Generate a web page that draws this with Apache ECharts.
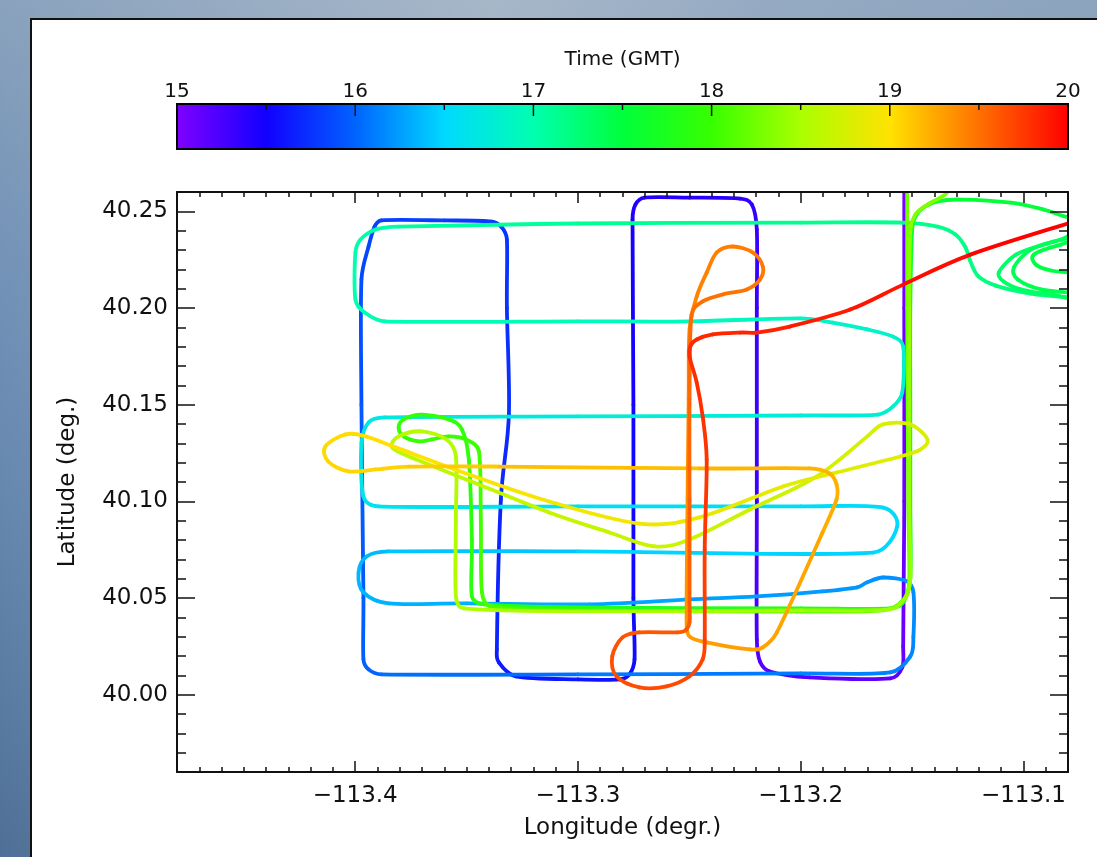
<!DOCTYPE html>
<html>
<head>
<meta charset="utf-8">
<title>Flight track coloured by time</title>
<script src="https://cdn.jsdelivr.net/npm/echarts@6/dist/echarts.min.js"></script>
<style>
  html, body { margin: 0; padding: 0; width: 1097px; height: 857px; overflow: hidden; }
  body {
    position: relative;
    background:
      linear-gradient(90deg, rgba(160,176,194,0.0) 0%, rgba(190,200,210,0.55) 45%, rgba(170,186,204,0.35) 70%, rgba(150,170,195,0.2) 100%),
      linear-gradient(180deg, #8aa2bd 0%, #7393b7 30%, #6788b0 55%, #5a7ca4 80%, #4f6f96 100%);
  }
  #panel {
    position: absolute; left: 30px; top: 18px; width: 1100px; height: 900px;
    background: #ffffff; border-left: 2px solid #111; border-top: 2px solid #111;
  }
  #chart { position: absolute; left: 0; top: 0; width: 1097px; height: 857px; }
</style>
</head>
<body>
<div id="panel"></div>
<div id="chart"></div>
<script>
// Aircraft track: [longitude (deg), latitude (deg), time (hours GMT)]
const legSurveyBoxes = [
  [-113.1535, 40.2700, 15.00], [-113.1535, 40.2000, 15.04], [-113.1535, 40.1000, 15.08],
  [-113.1540, 40.0250, 15.11], [-113.1544, 40.0141, 15.12], [-113.1598, 40.0084, 15.13],
  [-113.1961, 40.0089, 15.16], [-113.2138, 40.0120, 15.18], [-113.2183, 40.0172, 15.19],
  [-113.2197, 40.0286, 15.20], [-113.2197, 40.1000, 15.25], [-113.2197, 40.2000, 15.31],
  [-113.2197, 40.2406, 15.33], [-113.2219, 40.2535, 15.34], [-113.2273, 40.2566, 15.35],
  [-113.2500, 40.2571, 15.38], [-113.2701, 40.2571, 15.41], [-113.2742, 40.2535, 15.42],
  [-113.2755, 40.2458, 15.43], [-113.2751, 40.1500, 15.48], [-113.2751, 40.0500, 15.53],
  [-113.2746, 40.0183, 15.55], [-113.2769, 40.0105, 15.56], [-113.2814, 40.0079, 15.57],
  [-113.3000, 40.0079, 15.59], [-113.3278, 40.0095, 15.62], [-113.3355, 40.0167, 15.63],
  [-113.3364, 40.0234, 15.64], [-113.3346, 40.1010, 15.68], [-113.3310, 40.1449, 15.71],
  [-113.3319, 40.2000, 15.74], [-113.3319, 40.2354, 15.76], [-113.3341, 40.2416, 15.77],
  [-113.3386, 40.2447, 15.78], [-113.3600, 40.2453, 15.80], [-113.3882, 40.2453, 15.83],
  [-113.3913, 40.2421, 15.84], [-113.3940, 40.2318, 15.85], [-113.3972, 40.2147, 15.86],
  [-113.3972, 40.1500, 15.90], [-113.3963, 40.0500, 15.96], [-113.3963, 40.0183, 15.98],
  [-113.3940, 40.0131, 15.99], [-113.3882, 40.0105, 16.00], [-113.3000, 40.0105, 16.05],
  [-113.2000, 40.0110, 16.10], [-113.1598, 40.0115, 16.13], [-113.1508, 40.0198, 16.14]
];

const legCrossTracks = [
  [-113.1494, 40.0300, 16.15], [-113.1494, 40.0529, 16.17], [-113.1522, 40.0586, 16.18],
  [-113.1630, 40.0606, 16.19], [-113.1701, 40.0581, 16.20], [-113.1747, 40.0555, 16.21],
  [-113.1902, 40.0534, 16.22], [-113.2197, 40.0508, 16.24], [-113.2499, 40.0493, 16.26],
  [-113.2949, 40.0467, 16.28], [-113.3500, 40.0472, 16.31], [-113.3850, 40.0472, 16.33],
  [-113.3963, 40.0529, 16.34], [-113.3985, 40.0632, 16.35], [-113.3949, 40.0715, 16.36],
  [-113.3850, 40.0741, 16.37], [-113.3000, 40.0741, 16.42], [-113.1675, 40.0735, 16.48],
  [-113.1567, 40.0870, 16.50], [-113.1630, 40.0968, 16.51], [-113.2000, 40.0974, 16.53],
  [-113.3000, 40.0974, 16.58], [-113.3895, 40.0974, 16.62], [-113.3963, 40.1025, 16.63],
  [-113.3972, 40.1300, 16.64], [-113.3940, 40.1408, 16.65], [-113.3868, 40.1434, 16.66],
  [-113.3000, 40.1439, 16.71], [-113.2000, 40.1444, 16.76], [-113.1653, 40.1449, 16.78],
  [-113.1585, 40.1491, 16.79], [-113.1544, 40.1563, 16.80], [-113.1540, 40.1801, 16.82],
  [-113.1585, 40.1852, 16.83], [-113.1701, 40.1889, 16.84], [-113.1857, 40.1925, 16.85],
  [-113.2003, 40.1946, 16.86], [-113.2500, 40.1931, 16.89], [-113.3000, 40.1931, 16.92],
  [-113.3868, 40.1931, 16.97], [-113.3958, 40.1977, 16.98], [-113.3999, 40.2044, 16.99],
  [-113.3999, 40.2287, 17.01], [-113.3976, 40.2354, 17.02], [-113.3908, 40.2406, 17.03],
  [-113.3805, 40.2421, 17.04], [-113.3000, 40.2437, 17.08], [-113.2000, 40.2442, 17.13],
  [-113.1540, 40.2442, 17.15], [-113.1386, 40.2421, 17.16], [-113.1305, 40.2380, 17.17],
  [-113.1260, 40.2313, 17.18], [-113.1238, 40.2240, 17.19], [-113.1202, 40.2163, 17.20],
  [-113.1125, 40.2116, 17.21], [-113.0967, 40.2075, 17.23], [-113.0787, 40.2054, 17.24],
  [-113.0700, 40.2050, 17.25]
];

const legEastLoops = [
  [-113.0700, 40.2380, 17.27], [-113.0787, 40.2365, 17.28], [-113.0909, 40.2328, 17.29],
  [-113.1034, 40.2276, 17.30], [-113.1111, 40.2183, 17.31], [-113.1089, 40.2137, 17.32],
  [-113.1012, 40.2096, 17.33], [-113.0877, 40.2070, 17.34], [-113.0700, 40.2065, 17.35],
  [-113.0700, 40.2396, 17.36], [-113.0832, 40.2354, 17.37], [-113.0967, 40.2302, 17.38],
  [-113.1043, 40.2209, 17.39], [-113.1025, 40.2147, 17.40], [-113.0922, 40.2096, 17.41],
  [-113.0787, 40.2080, 17.42], [-113.0700, 40.2080, 17.42], [-113.0700, 40.2354, 17.43],
  [-113.0832, 40.2328, 17.44], [-113.0954, 40.2276, 17.45], [-113.0945, 40.2225, 17.46],
  [-113.0877, 40.2194, 17.47], [-113.0787, 40.2183, 17.47], [-113.0700, 40.2180, 17.48]
];

const legReturnLoops = [
  [-113.0700, 40.2490, 17.49], [-113.0787, 40.2468, 17.50], [-113.0909, 40.2509, 17.51],
  [-113.1057, 40.2545, 17.52], [-113.1283, 40.2561, 17.54], [-113.1386, 40.2551, 17.55],
  [-113.1449, 40.2520, 17.56], [-113.1485, 40.2473, 17.57], [-113.1499, 40.2416, 17.58],
  [-113.1508, 40.2000, 17.61], [-113.1508, 40.1500, 17.64], [-113.1508, 40.1000, 17.67],
  [-113.1508, 40.0600, 17.70], [-113.1540, 40.0477, 17.72], [-113.1598, 40.0446, 17.73],
  [-113.2000, 40.0446, 17.76], [-113.3000, 40.0451, 17.82], [-113.3422, 40.0467, 17.85],
  [-113.3476, 40.0508, 17.86], [-113.3476, 40.0800, 17.88], [-113.3490, 40.1217, 17.90],
  [-113.3521, 40.1372, 17.92], [-113.3580, 40.1424, 17.93], [-113.3702, 40.1449, 17.94],
  [-113.3782, 40.1424, 17.95], [-113.3805, 40.1382, 17.96], [-113.3782, 40.1336, 17.97],
  [-113.3715, 40.1310, 17.98], [-113.3656, 40.1320, 17.99], [-113.3580, 40.1336, 18.00],
  [-113.3503, 40.1320, 18.01], [-113.3445, 40.1260, 18.02], [-113.3436, 40.0900, 18.04],
  [-113.3431, 40.0530, 18.06], [-113.3390, 40.0457, 18.07], [-113.3000, 40.0436, 18.09],
  [-113.2000, 40.0430, 18.13], [-113.1630, 40.0436, 18.15], [-113.1540, 40.0490, 18.16],
  [-113.1513, 40.0580, 18.17], [-113.1517, 40.1000, 18.19], [-113.1522, 40.2000, 18.23],
  [-113.1522, 40.2600, 18.25], [-113.1522, 40.2700, 18.26], [-113.1330, 40.2700, 18.28],
  [-113.1341, 40.2602, 18.29], [-113.1373, 40.2571, 18.30], [-113.1431, 40.2535, 18.31],
  [-113.1485, 40.2484, 18.32], [-113.1508, 40.2396, 18.33], [-113.1513, 40.2000, 18.35],
  [-113.1513, 40.1000, 18.39], [-113.1508, 40.0600, 18.41], [-113.1531, 40.0500, 18.42],
  [-113.1600, 40.0441, 18.43], [-113.2000, 40.0436, 18.45], [-113.3000, 40.0431, 18.49],
  [-113.3512, 40.0446, 18.51], [-113.3548, 40.0508, 18.52], [-113.3548, 40.0900, 18.54],
  [-113.3548, 40.1232, 18.55], [-113.3590, 40.1320, 18.56], [-113.3702, 40.1362, 18.57],
  [-113.3805, 40.1336, 18.58], [-113.3837, 40.1284, 18.59], [-113.3782, 40.1243, 18.60]
];

const legFigureEights = [
  [-113.3490, 40.1108, 18.62], [-113.3129, 40.0942, 18.64], [-113.2859, 40.0839, 18.66],
  [-113.2656, 40.0767, 18.67], [-113.2499, 40.0803, 18.68], [-113.2228, 40.0958, 18.70],
  [-113.1929, 40.1128, 18.72], [-113.1701, 40.1336, 18.74], [-113.1630, 40.1398, 18.75],
  [-113.1508, 40.1398, 18.76], [-113.1431, 40.1320, 18.77], [-113.1463, 40.1268, 18.78],
  [-113.1553, 40.1232, 18.79], [-113.1839, 40.1149, 18.81], [-113.2080, 40.1077, 18.83],
  [-113.2454, 40.0917, 18.86], [-113.2724, 40.0885, 18.88], [-113.3129, 40.0999, 18.92],
  [-113.3490, 40.1139, 18.96], [-113.3818, 40.1279, 18.99], [-113.3953, 40.1336, 19.01],
  [-113.4043, 40.1346, 19.02], [-113.4134, 40.1284, 19.03], [-113.4121, 40.1206, 19.04],
  [-113.4030, 40.1155, 19.05], [-113.3908, 40.1165, 19.06], [-113.3760, 40.1180, 19.07],
  [-113.3355, 40.1180, 19.10], [-113.2454, 40.1170, 19.16], [-113.1961, 40.1170, 19.20],
  [-113.1870, 40.1144, 19.21], [-113.1839, 40.1087, 19.215], [-113.1839, 40.1010, 19.22],
  [-113.1902, 40.0839, 19.23], [-113.2107, 40.0322, 19.27], [-113.2170, 40.0245, 19.28],
  [-113.2228, 40.0234, 19.29], [-113.2422, 40.0270, 19.30], [-113.2499, 40.0301, 19.31],
  [-113.2512, 40.0374, 19.32]
];

const legFinal = [
  [-113.2508, 40.1010, 19.35], [-113.2503, 40.1527, 19.37], [-113.2499, 40.1889, 19.39],
  [-113.2467, 40.2059, 19.41], [-113.2422, 40.2183, 19.42], [-113.2377, 40.2287, 19.43],
  [-113.2305, 40.2318, 19.44], [-113.2215, 40.2287, 19.45], [-113.2170, 40.2214, 19.46],
  [-113.2183, 40.2147, 19.47], [-113.2242, 40.2096, 19.48], [-113.2350, 40.2070, 19.49],
  [-113.2440, 40.2034, 19.50], [-113.2490, 40.1967, 19.51], [-113.2499, 40.1527, 19.53],
  [-113.2499, 40.1010, 19.55], [-113.2499, 40.0493, 19.58], [-113.2499, 40.0374, 19.59],
  [-113.2517, 40.0333, 19.60], [-113.2553, 40.0322, 19.605], [-113.2724, 40.0322, 19.62],
  [-113.2800, 40.0296, 19.63], [-113.2846, 40.0198, 19.64], [-113.2827, 40.0095, 19.65],
  [-113.2724, 40.0038, 19.66], [-113.2602, 40.0043, 19.67], [-113.2499, 40.0095, 19.68],
  [-113.2440, 40.0183, 19.69], [-113.2431, 40.0286, 19.70], [-113.2431, 40.0751, 19.73],
  [-113.2422, 40.1217, 19.76], [-113.2440, 40.1439, 19.78], [-113.2467, 40.1615, 19.79],
  [-113.2499, 40.1749, 19.80], [-113.2494, 40.1806, 19.805], [-113.2467, 40.1837, 19.81],
  [-113.2395, 40.1863, 19.82], [-113.2273, 40.1873, 19.83], [-113.2197, 40.1873, 19.84],
  [-113.2049, 40.1904, 19.85], [-113.1778, 40.1992, 19.88], [-113.1540, 40.2121, 19.91],
  [-113.1238, 40.2276, 19.95], [-113.0787, 40.2442, 19.99], [-113.0697, 40.2473, 20.00]
];

// Axis ticks and labels
const lonTicks = [-113.4, -113.3, -113.2, -113.1];
const latTicks = [40.00, 40.05, 40.10, 40.15, 40.20, 40.25];
const timeTicks = [15, 16, 17, 18, 19, 20];
const timeInnerTicks = [16, 17, 18, 19];
const timeMinorTicks = [15.5, 16.5, 17.5, 18.5, 19.5];
const lonRange = [-113.48, -113.08];
const latRange = [39.96, 40.26];
const timeRange = [15, 20];

// Rainbow colour table, evenly spaced from 15 to 20 GMT (every half hour)
const rainbow = ['#8000ff', '#1200ff', '#0063ff', '#00d9ff', '#00ffb0', '#00ff3c',
                 '#37ff00', '#aaff00', '#ffe200', '#ff7100', '#ff0000'];

function minorSteps(lo, hi, step) {
  const out = [];
  const n = Math.round((hi - lo) / step);
  for (let k = 1; k < n; k++) out.push(Math.round((lo + k * step) * 1000) / 1000);
  return out;
}
const lonMinor = minorSteps(lonRange[0], lonRange[1], 0.01);
const latMinor = minorSteps(latRange[0], latRange[1], 0.01);

// Each item is one piece of the track, from the previous fix to this one;
// the fixes on either side are carried along to round the curve.
const track = [].concat(legSurveyBoxes, legCrossTracks, legEastLoops,
                        legReturnLoops, legFigureEights, legFinal);
const last = track.length - 1;
const segments = track.map(function (p, i) {
  const b = track[Math.max(i - 1, 0)];
  const a = track[Math.max(i - 2, 0)];
  const d = track[Math.min(i + 1, last)];
  return [p[0], p[1], p[2], b[0], b[1], a[0], a[1], d[0], d[1]];
});

const FONT = "'DejaVu Sans', 'Liberation Sans', sans-serif";
const INK = '#111111';

function majorAxis(pos, gridIndex, range, ticks, len, labels) {
  const ax = {
    type: 'value', gridIndex: gridIndex, position: pos,
    min: range[0], max: range[1], z: 10,
    axisLine: { show: true, onZero: false, lineStyle: { color: INK, width: 2 } },
    axisTick: { show: true, inside: true, length: len, customValues: ticks,
                lineStyle: { color: INK, width: 1.5 } },
    axisLabel: { show: false },
    splitLine: { show: false }
  };
  if (labels) {
    ax.axisLabel = Object.assign({ show: true, customValues: ticks, color: INK,
                                   fontFamily: FONT }, labels);
  }
  return ax;
}
function minorAxis(pos, gridIndex, range, ticks, len) {
  return {
    type: 'value', gridIndex: gridIndex, position: pos,
    min: range[0], max: range[1], z: 10,
    axisLine: { show: false, onZero: false },
    axisTick: { show: true, inside: true, length: len, customValues: ticks,
                lineStyle: { color: INK, width: 1.5 } },
    axisLabel: { show: false },
    splitLine: { show: false }
  };
}

const xBottom = majorAxis('bottom', 0, lonRange, lonTicks, 11, {
  fontSize: 23, margin: 13,
  formatter: function (v) { return (v < 0 ? '\u2212' : '') + Math.abs(v).toFixed(1); }
});
xBottom.name = 'Longitude (degr.)';
xBottom.nameLocation = 'middle';
xBottom.nameGap = 45;
xBottom.nameTextStyle = { fontSize: 23, color: INK, fontFamily: FONT };

const yLeft = majorAxis('left', 0, latRange, latTicks, 18, {
  fontSize: 23, margin: 9,
  formatter: function (v) { return v.toFixed(2); }
});
yLeft.name = 'Latitude (deg.)';
yLeft.nameLocation = 'middle';
yLeft.nameGap = 97;
yLeft.nameTextStyle = { fontSize: 23, color: INK, fontFamily: FONT };

// Colour-bar axis carries the hour labels and title; the bar draws its own ticks
const xTime = majorAxis('top', 1, timeRange, timeTicks, 12, {
  fontSize: 20, margin: 2,
  formatter: function (v) { return String(v); }
});
xTime.axisLine = { show: false, onZero: false };
xTime.axisTick = { show: false };
xTime.name = 'Time (GMT)';
xTime.nameLocation = 'middle';
xTime.nameGap = 34;
xTime.nameTextStyle = { fontSize: 20, color: INK, fontFamily: FONT };

// Rounded piece of track between two fixes (Catmull-Rom, kept from overshooting)
function controlPoint(prev, next, span) {
  let tx = (next[0] - prev[0]) / 6;
  let ty = (next[1] - prev[1]) / 6;
  const len = Math.sqrt(tx * tx + ty * ty);
  const cap = span * 0.4;
  if (len > cap && len > 0) { tx *= cap / len; ty *= cap / len; }
  return [tx, ty];
}

// Colour-bar ramp: the same evenly spaced colour table as the track
const rampStops = rainbow.map(function (c, k) {
  return { offset: k / (rainbow.length - 1), color: c };
});

const option = {
  animation: false,
  backgroundColor: 'transparent',
  grid: [
    { left: 177, top: 192, width: 891, height: 580, containLabel: false, outerBoundsMode: 'none' },
    { left: 177, top: 104, width: 891, height: 45, containLabel: false, outerBoundsMode: 'none' }
  ],
  xAxis: [
    xBottom,
    minorAxis('bottom', 0, lonRange, lonMinor, 5),
    majorAxis('top', 0, lonRange, lonTicks, 11, null),
    minorAxis('top', 0, lonRange, lonMinor, 5),
    xTime
  ],
  yAxis: [
    yLeft,
    minorAxis('left', 0, latRange, latMinor, 9),
    majorAxis('right', 0, latRange, latTicks, 18, null),
    minorAxis('right', 0, latRange, latMinor, 9),
    { type: 'value', gridIndex: 1, min: 0, max: 1, show: false }
  ],
  visualMap: {
    type: 'continuous',
    show: false,
    min: timeRange[0], max: timeRange[1],
    dimension: 2,
    seriesIndex: 0,
    inRange: { color: rainbow }
  },
  series: [{
    type: 'custom',
    coordinateSystem: 'cartesian2d',
    xAxisIndex: 0, yAxisIndex: 0,
    clip: true,
    silent: true,
    dimensions: ['lon', 'lat', 'gmt', 'lon1', 'lat1', 'lon0', 'lat0', 'lon3', 'lat3'],
    encode: { x: 0, y: 1 },
    data: segments,
    renderItem: function (params, api) {
      const p2 = api.coord([api.value(0), api.value(1)]);
      const p1 = api.coord([api.value(3), api.value(4)]);
      const p0 = api.coord([api.value(5), api.value(6)]);
      const p3 = api.coord([api.value(7), api.value(8)]);
      const span = Math.sqrt((p2[0] - p1[0]) * (p2[0] - p1[0]) + (p2[1] - p1[1]) * (p2[1] - p1[1]));
      const t1 = controlPoint(p0, p2, span);
      const t2 = controlPoint(p1, p3, span);
      return {
        type: 'bezierCurve',
        shape: {
          x1: p1[0], y1: p1[1], x2: p2[0], y2: p2[1],
          cpx1: p1[0] + t1[0], cpy1: p1[1] + t1[1],
          cpx2: p2[0] - t2[0], cpy2: p2[1] - t2[1]
        },
        style: { stroke: api.visual('color'), fill: null, lineWidth: 3.8, lineCap: 'round' }
      };
    }
  }, {
    // Colour bar for time (GMT): ramp, frame and hour / half-hour ticks
    type: 'custom',
    coordinateSystem: 'cartesian2d',
    xAxisIndex: 4, yAxisIndex: 4,
    silent: true,
    data: [[timeRange[0], timeRange[1]]],
    renderItem: function (params, api) {
      const a = api.coord([api.value(0), 1]);
      const b = api.coord([api.value(1), 0]);
      const box = { x: a[0], y: a[1], width: b[0] - a[0], height: b[1] - a[1] };
      const children = [
        { type: 'rect', shape: box,
          style: { fill: new echarts.graphic.LinearGradient(0, 0, 1, 0, rampStops) } }
      ];
      function tick(v, len) {
        const p = api.coord([v, 1]);
        children.push({ type: 'line', shape: { x1: p[0], y1: p[1], x2: p[0], y2: p[1] + len },
                        style: { stroke: INK, lineWidth: 1.5 } });
      }
      timeInnerTicks.forEach(function (v) { tick(v, 12); });
      timeMinorTicks.forEach(function (v) { tick(v, 6); });
      children.push({ type: 'rect', shape: box,
                      style: { fill: null, stroke: '#000', lineWidth: 2 } });
      return { type: 'group', children: children };
    }
  }]
};

const chart = echarts.init(document.getElementById('chart'), null, { renderer: 'canvas' });
chart.setOption(option);
</script>
</body>
</html>
